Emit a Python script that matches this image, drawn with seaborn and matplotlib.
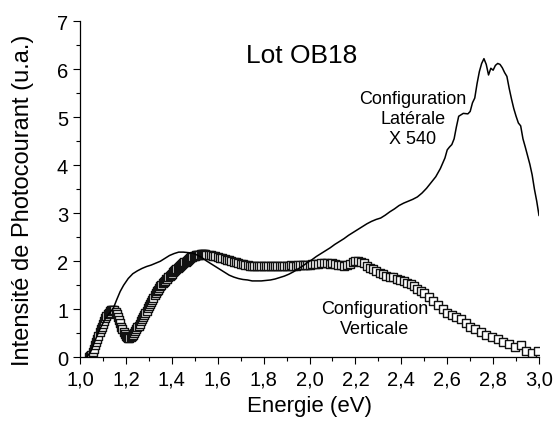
import numpy as np
import pandas as pd
import matplotlib
matplotlib.use("Agg")
import matplotlib.pyplot as plt
from matplotlib.ticker import MultipleLocator, FuncFormatter
import seaborn as sns

# --- DATA ---
# Configuration Verticale (open squares), dense at low energy
vert_energy = [
    1.040, 1.045, 1.050, 1.055, 1.060, 1.065, 1.070, 1.075, 1.080, 1.085, 1.090, 1.095,
    1.100, 1.105, 1.110, 1.115, 1.120, 1.125, 1.130, 1.135, 1.140, 1.145, 1.150, 1.155,
    1.160, 1.165, 1.170, 1.175, 1.180, 1.185, 1.190, 1.195, 1.200, 1.205, 1.210, 1.215,
    1.220, 1.225, 1.230, 1.235, 1.240, 1.245, 1.250, 1.255, 1.260, 1.265, 1.270, 1.275,
    1.280, 1.285, 1.290, 1.295, 1.300, 1.305, 1.310, 1.315, 1.320, 1.325, 1.330, 1.335,
    1.340, 1.345, 1.350, 1.355, 1.360, 1.365, 1.370, 1.375, 1.380, 1.385, 1.390, 1.395,
    1.400, 1.405, 1.410, 1.415, 1.420, 1.425, 1.430, 1.435, 1.440, 1.445, 1.450, 1.455,
    1.460, 1.465, 1.470, 1.475, 1.480, 1.485, 1.490, 1.495, 1.500, 1.505, 1.510, 1.515,
    1.520, 1.525, 1.530, 1.535, 1.540, 1.545, 1.550,
    1.56, 1.57, 1.58, 1.59, 1.60, 1.61, 1.62, 1.63, 1.64, 1.65, 1.66, 1.67, 1.68, 1.69,
    1.70, 1.71, 1.72, 1.73, 1.74, 1.75, 1.76, 1.77, 1.78, 1.79, 1.80, 1.81, 1.82, 1.83,
    1.84, 1.85, 1.86, 1.87, 1.88, 1.89, 1.90, 1.91, 1.92, 1.93, 1.94, 1.95, 1.96, 1.97,
    1.98, 1.99, 2.00,
    2.0125, 2.025, 2.0375, 2.05, 2.0625, 2.075, 2.0875, 2.10, 2.1125, 2.125, 2.1375, 2.15,
    2.1625, 2.175, 2.1875, 2.20, 2.2125, 2.225, 2.2375, 2.25, 2.2625, 2.275,
    2.29, 2.305, 2.32, 2.335, 2.35, 2.365, 2.38, 2.395, 2.41, 2.425, 2.44, 2.455, 2.47,
    2.485, 2.50, 2.52, 2.54, 2.56, 2.58, 2.60, 2.62, 2.64, 2.66, 2.68, 2.70, 2.72,
    2.745, 2.77, 2.795, 2.82, 2.845, 2.87, 2.895, 2.92, 2.945, 2.97, 2.995,
]
vert_signal = [
    0.00, 0.02, 0.05, 0.11, 0.18, 0.25, 0.32, 0.38, 0.45, 0.52, 0.58, 0.64,
    0.70, 0.76, 0.81, 0.86, 0.90, 0.93, 0.96, 0.98, 0.99, 0.99, 0.98, 0.95,
    0.90, 0.84, 0.78, 0.71, 0.64, 0.58, 0.52, 0.48, 0.44, 0.42, 0.41, 0.41,
    0.42, 0.44, 0.47, 0.50, 0.54, 0.58, 0.62, 0.66, 0.70, 0.75, 0.79, 0.84,
    0.88, 0.93, 0.97, 1.02, 1.06, 1.11, 1.15, 1.20, 1.24, 1.29, 1.33, 1.37,
    1.41, 1.45, 1.48, 1.51, 1.54, 1.57, 1.59, 1.62, 1.64, 1.67, 1.69, 1.72,
    1.74, 1.77, 1.79, 1.82, 1.84, 1.86, 1.88, 1.90, 1.92, 1.94, 1.96, 1.98,
    1.99, 2.01, 2.03, 2.05, 2.06, 2.08, 2.09, 2.10, 2.11, 2.12, 2.13, 2.14,
    2.14, 2.15, 2.15, 2.15, 2.15, 2.15, 2.14,
    2.13, 2.12, 2.11, 2.10, 2.08, 2.07, 2.06, 2.04, 2.03, 2.02, 2.00, 1.99, 1.98, 1.96,
    1.95, 1.94, 1.93, 1.92, 1.91, 1.91, 1.90, 1.90, 1.90, 1.90, 1.90, 1.90, 1.90, 1.91,
    1.91, 1.91, 1.91, 1.91, 1.91, 1.90, 1.91, 1.91, 1.92, 1.91, 1.91, 1.92, 1.92, 1.92,
    1.93, 1.92, 1.92,
    1.94, 1.95, 1.95, 1.96, 1.96, 1.96, 1.95, 1.96, 1.95, 1.93, 1.92, 1.91,
    1.92, 1.95, 1.98, 2.00, 2.00, 1.99, 1.96, 1.91, 1.86, 1.83,
    1.79, 1.76, 1.73, 1.70, 1.68, 1.67, 1.64, 1.61, 1.58, 1.55, 1.52, 1.49, 1.43,
    1.39, 1.34, 1.26, 1.17, 1.08, 1.00, 0.93, 0.88, 0.84, 0.79, 0.71, 0.64, 0.58,
    0.52, 0.47, 0.42, 0.38, 0.31, 0.27, 0.21, 0.26, 0.13, 0.09, 0.13,
]

# Configuration Laterale x 540 (solid line)
lat_energy = [
    1.03, 1.05, 1.07, 1.09, 1.11, 1.13, 1.145, 1.16, 1.175, 1.19, 1.21, 1.23, 1.25, 1.27,
    1.29, 1.31, 1.33, 1.35, 1.37, 1.39, 1.41, 1.43, 1.45, 1.47, 1.49, 1.51, 1.53, 1.55,
    1.57, 1.59, 1.61, 1.63, 1.65, 1.67, 1.69, 1.71, 1.73, 1.75, 1.77, 1.79, 1.81, 1.83,
    1.85, 1.87, 1.89, 1.91, 1.93, 1.95, 1.97, 1.99, 2.01, 2.03, 2.05, 2.07, 2.09, 2.11,
    2.13, 2.15, 2.17, 2.19, 2.21, 2.23, 2.25, 2.27, 2.29, 2.31, 2.33, 2.35, 2.37, 2.39,
    2.41, 2.43, 2.45, 2.47, 2.49, 2.51, 2.53, 2.55, 2.57, 2.59, 2.60, 2.61, 2.62, 2.63,
    2.64, 2.65, 2.67, 2.69, 2.70, 2.71, 2.72, 2.73, 2.74, 2.75, 2.76, 2.77, 2.78, 2.79,
    2.80, 2.81, 2.82, 2.83, 2.84, 2.85, 2.86, 2.87, 2.88, 2.89, 2.90, 2.91, 2.92, 2.93,
    2.94, 2.95, 2.96, 2.97, 2.98, 2.99, 3.00,
]
lat_signal = [
    0.00, 0.15, 0.40, 0.62, 0.80, 0.93, 1.02, 1.20, 1.37, 1.50, 1.64, 1.74, 1.80, 1.85,
    1.89, 1.92, 1.96, 2.00, 2.06, 2.12, 2.16, 2.19, 2.19, 2.18, 2.17, 2.13, 2.08, 2.01,
    1.95, 1.89, 1.83, 1.77, 1.71, 1.67, 1.64, 1.62, 1.61, 1.59, 1.59, 1.59, 1.60, 1.61,
    1.63, 1.66, 1.69, 1.73, 1.78, 1.84, 1.90, 1.97, 2.03, 2.10, 2.16, 2.22, 2.28, 2.35,
    2.41, 2.47, 2.54, 2.60, 2.66, 2.72, 2.78, 2.83, 2.87, 2.90, 2.96, 3.03, 3.09, 3.16,
    3.21, 3.25, 3.29, 3.34, 3.42, 3.52, 3.64, 3.76, 3.93, 4.15, 4.32, 4.38, 4.43, 4.55,
    4.80, 5.02, 5.08, 5.07, 5.12, 5.30, 5.40, 5.70, 5.95, 6.12, 6.22, 6.10, 5.88, 6.02,
    5.98, 6.08, 6.12, 6.10, 6.03, 5.93, 5.85, 5.60, 5.38, 5.18, 5.02, 4.88, 4.82, 4.55,
    4.38, 4.20, 4.02, 3.80, 3.50, 3.25, 2.95,
]

x_ticks = [1.0, 1.2, 1.4, 1.6, 1.8, 2.0, 2.2, 2.4, 2.6, 2.8, 3.0]
y_ticks = [0, 1, 2, 3, 4, 5, 6, 7]

df_vert = pd.DataFrame({"Energie": vert_energy, "Signal": vert_signal})
df_lat = pd.DataFrame({"Energie": lat_energy, "Signal": lat_signal})

# --- STYLE ---
sns.set_style("ticks")
plt.rcParams['font.family'] = ['Liberation Sans', 'DejaVu Sans']
plt.rcParams['text.color'] = 'black'
plt.rcParams['axes.labelcolor'] = 'black'

fig = plt.figure(figsize=(5.58, 4.27), dpi=100)
ax = fig.add_axes([0.1434, 0.161, 0.8226, 0.787])

# squares: white fill, dark edge (overlap makes the grey band at low energy)
sns.scatterplot(data=df_vert, x="Energie", y="Signal", ax=ax, marker="s", s=40,
                color="white", edgecolor="#111111", linewidth=1.0, zorder=2)
sns.lineplot(data=df_lat, x="Energie", y="Signal", ax=ax, color="black",
             linewidth=1.1, zorder=3)

ax.set_xlim(1.0, 3.0)
ax.set_ylim(0, 7)
ax.set_xticks(x_ticks)
ax.set_yticks(y_ticks)
ax.xaxis.set_minor_locator(MultipleLocator(0.1))
ax.yaxis.set_minor_locator(MultipleLocator(0.5))
ax.xaxis.set_major_formatter(FuncFormatter(lambda v, p: f"{v:.1f}".replace(".", ",")))
ax.yaxis.set_major_formatter(FuncFormatter(lambda v, p: f"{v:.0f}"))

ax.tick_params(which="major", direction="out", length=5, width=0.8,
               labelsize=14.5, color="black", labelcolor="black", pad=3.5)
ax.tick_params(which="minor", direction="out", length=3, width=0.8, color="black")
sns.despine(ax=ax)
for side in ["left", "bottom"]:
    ax.spines[side].set_color("black")
    ax.spines[side].set_linewidth(0.9)

ax.set_xlabel("Energie (eV)", fontsize=16, color="black")
ax.set_ylabel("Intensité de Photocourant (u.a.)", fontsize=17, color="black")
ax.xaxis.set_label_coords(0.501, -0.112)
ax.yaxis.set_label_coords(-0.10, 0.47)

ax.text(1.967, 6.30, "Lot OB18", fontsize=19, ha="center", va="center", color="black")
ax.text(2.45, 4.98, "Configuration\nLatérale\nX 540", fontsize=13,
        ha="center", va="center", linespacing=1.22, color="black")
ax.text(2.283, 0.80, "Configuration\nVerticale", fontsize=13,
        ha="center", va="center", linespacing=1.22, color="black")

fig.savefig("out.png", dpi=100)
